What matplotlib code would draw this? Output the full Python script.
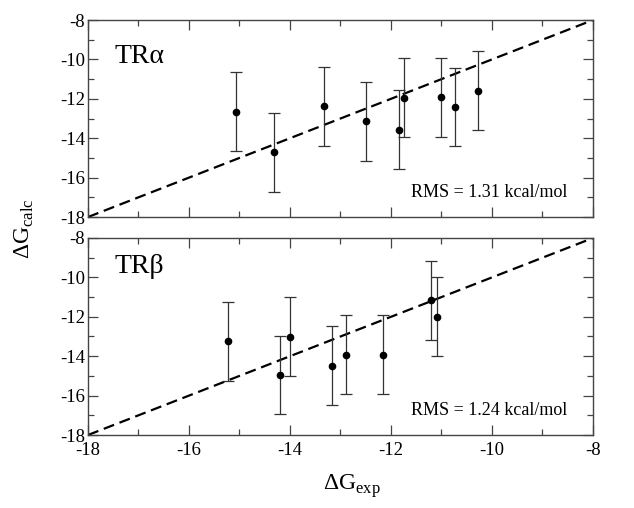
import numpy as np
import matplotlib.pyplot as plt
from matplotlib.ticker import MultipleLocator

plt.rcParams['font.family'] = ['Liberation Serif', 'DejaVu Serif']
plt.rcParams['mathtext.fontset'] = 'custom'
plt.rcParams['mathtext.rm'] = 'Liberation Serif'

# TR alpha data
exp_a = [-15.06, -14.32, -13.32, -12.50, -11.85, -11.75, -11.00, -10.73, -10.27]
calc_a = [-12.65, -14.72, -12.37, -13.14, -13.57, -11.94, -11.93, -12.42, -11.59]
err_a = [2.0, 2.0, 2.0, 2.0, 2.0, 2.0, 2.0, 2.0, 2.0]

# TR beta data
exp_b = [-15.22, -14.19, -14.00, -13.17, -12.89, -12.15, -11.20, -11.08]
calc_b = [-13.24, -14.95, -13.02, -14.49, -13.92, -13.93, -11.16, -12.00]
err_b = [2.0, 2.0, 2.0, 2.0, 2.0, 2.0, 2.0, 2.0]

labels = ['TR\u03b1', 'TR\u03b2']
rms = ['RMS = 1.31 kcal/mol', 'RMS = 1.24 kcal/mol']

fig = plt.figure(figsize=(6.34, 5.08), dpi=100)
ax1 = fig.add_axes([0.1388, 0.5728, 0.7965, 0.3878])
ax2 = fig.add_axes([0.1388, 0.1437, 0.7965, 0.3878])

panels = [(ax1, exp_a, calc_a, err_a), (ax2, exp_b, calc_b, err_b)]
for i, (ax, x, y, e) in enumerate(panels):
    line = np.array([-18, -8])
    ax.plot(line, line, color='black', lw=1.6, dashes=(5, 2.6), zorder=1)
    ax.errorbar(x, y, yerr=e, fmt='o', color='black', ms=4.5,
                ecolor='#333333', elinewidth=0.9, capsize=4, capthick=0.9, zorder=2)
    ax.set_xlim(-18, -8)
    ax.set_ylim(-18, -8)
    ax.xaxis.set_major_locator(MultipleLocator(2))
    ax.xaxis.set_minor_locator(MultipleLocator(1))
    ax.yaxis.set_major_locator(MultipleLocator(2))
    ax.yaxis.set_minor_locator(MultipleLocator(1))
    ax.tick_params(which='both', direction='in', top=True, right=True,
                   labelsize=13.5, color='#444444', width=0.9)
    ax.tick_params(which='major', length=7)
    ax.tick_params(which='minor', length=4)
    for s in ax.spines.values():
        s.set_color('#444444')
        s.set_linewidth(1.0)
    ax.set_yticks(np.arange(-18, -7, 2))
    ax.set_yticklabels([str(v) for v in range(-18, -7, 2)])
    ax.tick_params(axis='y', pad=2)
    ax.text(0.95, 0.10, rms[i], transform=ax.transAxes, ha='right',
            va='baseline', fontsize=13)

ax1.text(0.052, 0.78, labels[0], transform=ax1.transAxes, fontsize=20, va='baseline')
ax2.text(0.052, 0.82, labels[1], transform=ax2.transAxes, fontsize=20, va='baseline')

ax1.tick_params(labelbottom=False)
ax2.set_xticks(np.arange(-18, -7, 2))
ax2.set_xticklabels([str(v) for v in range(-18, -7, 2)])
ax2.tick_params(axis='x', pad=5)

fig.text(0.555, 0.035, r'$\Delta\mathrm{G}_{\mathrm{exp}}$', ha='center', fontsize=17)
fig.text(0.02, 0.55, r'$\Delta\mathrm{G}_{\mathrm{calc}}$', va='center', rotation=90, fontsize=17)

fig.savefig('out.png', dpi=100)
